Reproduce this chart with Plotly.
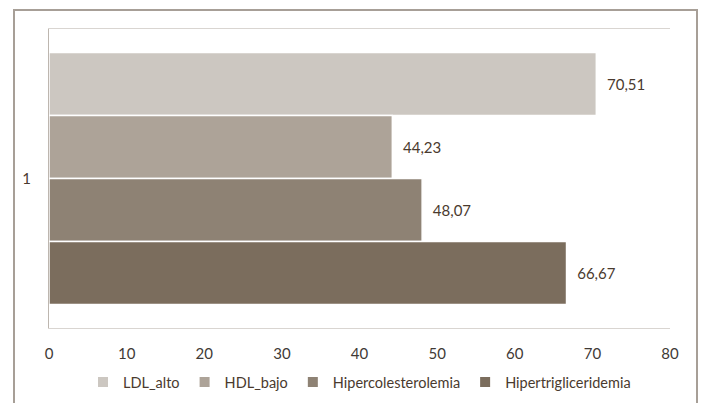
import plotly.graph_objects as go

categories = ["1"]
series_names = ["LDL_alto", "HDL_bajo", "Hipercolesterolemia", "Hipertrigliceridemia"]
series_values = [70.51, 44.23, 48.07, 66.67]
series_colors = ["#CCC7C1", "#ADA398", "#8E8274", "#7B6D5D"]
x_ticks = [0, 10, 20, 30, 40, 50, 60, 70, 80]

W, H = 702, 403
L, R, T, B = 49, 670, 29, 328

fig = go.Figure()
for name, val, col in zip(series_names, series_values, series_colors):
    fig.add_trace(go.Bar(
        y=categories, x=[val], name=name, orientation="h",
        marker=dict(color=col, line=dict(color="white", width=1.5)),
        text=["  " + f"{val:.2f}".replace(".", ",")], textposition="outside",
        textfont=dict(color="#4A3A2E", size=15),
        cliponaxis=False,
    ))

def px(x):
    return (x - L) / (R - L)

def py(y):
    return (B - y) / (B - T)

fig.update_layout(
    width=W, height=H,
    margin=dict(l=L, r=W - R, t=T, b=H - B, autoexpand=False),
    paper_bgcolor="white", plot_bgcolor="white",
    barmode="group", bargap=0.157, bargroupgap=0,
    font=dict(family="Lato, 'Open Sans', sans-serif", size=15, color="#4A3A2E"),
    separators=",.",
    showlegend=True,
    legend=dict(orientation="h", x=0.5, xanchor="center", y=py(382), yanchor="middle",
                font=dict(size=14.5, color="#4A3A2E"), traceorder="normal",
                itemwidth=30, itemsizing="constant"),
    xaxis=dict(range=[0, 80], tickvals=x_ticks, showgrid=False, zeroline=False,
               showline=True, linecolor="#D9D5D1", linewidth=1, mirror=True,
               ticks="", tickfont=dict(size=15, color="#3F3A36"), ticklabelstandoff=12),
    yaxis=dict(autorange="reversed", showgrid=False, zeroline=False,
               showline=True, linecolor="#BDB6AF", linewidth=1,
               ticks="", tickfont=dict(size=15, color="#4A3A2E"), ticklabelstandoff=14),
    shapes=[dict(type="rect", xref="paper", yref="paper",
                 x0=px(14), x1=px(697), y0=py(410), y1=py(10),
                 line=dict(color="#A79F97", width=2), layer="below")],
)

fig.write_html("out.html")
